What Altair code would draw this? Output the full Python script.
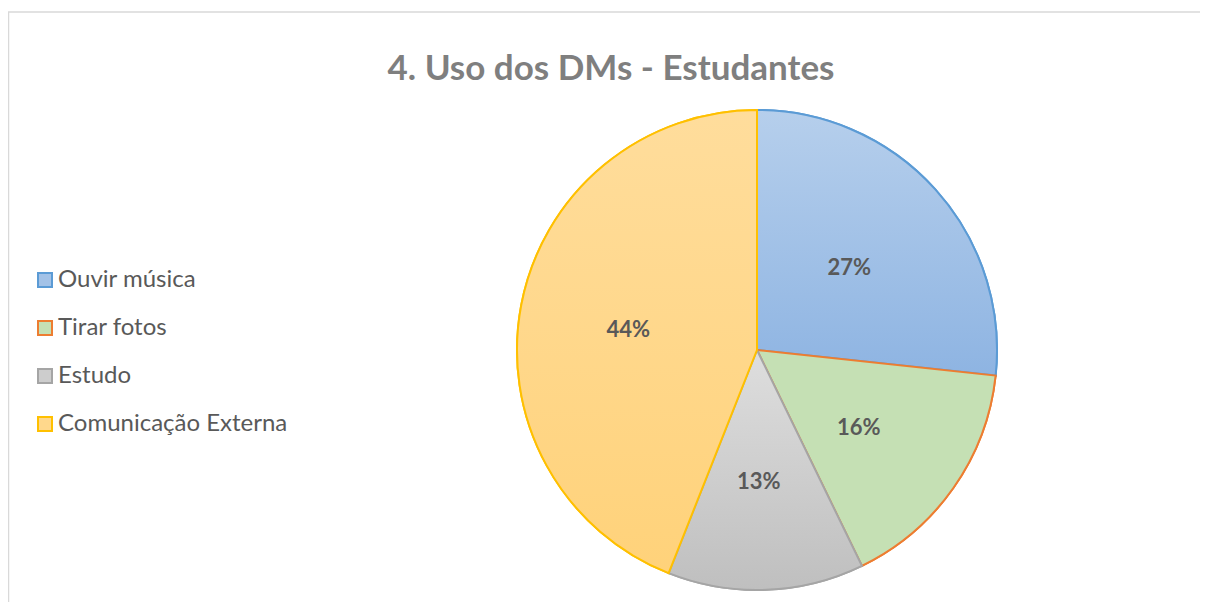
import altair as alt
import pandas as pd

categories = ["Ouvir música", "Tirar fotos", "Estudo", "Comunicação Externa"]
values = [26.7, 16.1, 13.2, 44.0]
labels = ["27%", "16%", "13%", "44%"]
order = [0, 1, 2, 3]

fill_colors = ["#a3c2e7", "#c5e0b4", "#cdcdcd", "#ffd88c"]
stroke_colors = ["#5b9bd5", "#ed7d31", "#a5a5a5", "#ffc000"]
grad_tops = ["#b6cfec", "#c5e0b4", "#dedede", "#ffdd9c"]
grad_bottoms = ["#8eb4e2", "#c5e0b4", "#bfbfbf", "#ffd27a"]

df = pd.DataFrame({"cat": categories, "val": values, "lab": labels, "ord": order})

CX, CY, R = 749, 342, 240

color_scale = alt.Scale(domain=categories, range=fill_colors)
stroke_scale = alt.Scale(domain=categories, range=stroke_colors)

base = alt.Chart(df).encode(
    theta=alt.Theta("val:Q", stack=True),
    order=alt.Order("ord:Q"),
)

pie = base.mark_arc(outerRadius=R, strokeWidth=2).encode(
    x=alt.value(CX),
    y=alt.value(CY),
    color=alt.Color(
        "cat:N",
        scale=color_scale,
        sort=categories,
        legend=alt.Legend(
            title=None,
            orient="none",
            legendX=25,
            legendY=260,
            symbolType="square",
            symbolSize=196,
            symbolStrokeWidth=2,
            labelFontSize=24,
            labelFont="Lato",
            labelColor="#595959",
            rowPadding=24,
            labelOffset=1,
            labelLimit=400,
        ),
    ),
    stroke=alt.Stroke("cat:N", scale=stroke_scale, sort=categories),
)

conds = []
for c, t, b in zip(categories[:-1], grad_tops[:-1], grad_bottoms[:-1]):
    conds.append({
        "test": f"datum.cat === '{c}'",
        "value": {"gradient": "linear", "x1": 0, "y1": 0, "x2": 0, "y2": 1,
                  "stops": [{"offset": 0, "color": t}, {"offset": 1, "color": b}]},
    })
grad_enc = {
    "condition": conds,
    "value": {"gradient": "linear", "x1": 0, "y1": 0, "x2": 0, "y2": 1,
              "stops": [{"offset": 0, "color": grad_tops[-1]}, {"offset": 1, "color": grad_bottoms[-1]}]},
}
sconds = [{"test": f"datum.cat === '{c}'", "value": s} for c, s in zip(categories[:-1], stroke_colors[:-1])]
stroke_enc = {"condition": sconds, "value": stroke_colors[-1]}

grad = base.mark_arc(outerRadius=R, strokeWidth=2).encode(
    x=alt.value(CX),
    y=alt.value(CY),
    fill=grad_enc,
    stroke=stroke_enc,
)

text = base.mark_text(
    radius=128, fontSize=22, fontWeight="bold", font="Lato", color="#595959"
).encode(
    x=alt.value(CX - 3),
    y=alt.value(CY + 4),
    text="lab:N",
)

frame = alt.Chart(pd.DataFrame({"a": [0]})).mark_rect(
    fill=None, stroke="#d9d9d9", strokeWidth=1.5
).encode(
    x=alt.value(0.5), x2=alt.value(1300), y=alt.value(4), y2=alt.value(700)
)

title = alt.Chart(pd.DataFrame({"t": ["4. Uso dos DMs - Estudantes"]})).mark_text(
    fontSize=35, fontWeight="bold", font="Lato", color="#7f7f7f", baseline="alphabetic"
).encode(
    x=alt.value(603), y=alt.value(72), text="t:N"
)

chart = alt.layer(frame, pie, grad, text, title).properties(
    width=1192, height=594, autosize=alt.AutoSizeParams(type="none"), padding=0
).configure_view(stroke=None).resolve_scale(color="independent", stroke="independent")

chart.save("out.html", embed_options={"renderer": "svg", "actions": False})
